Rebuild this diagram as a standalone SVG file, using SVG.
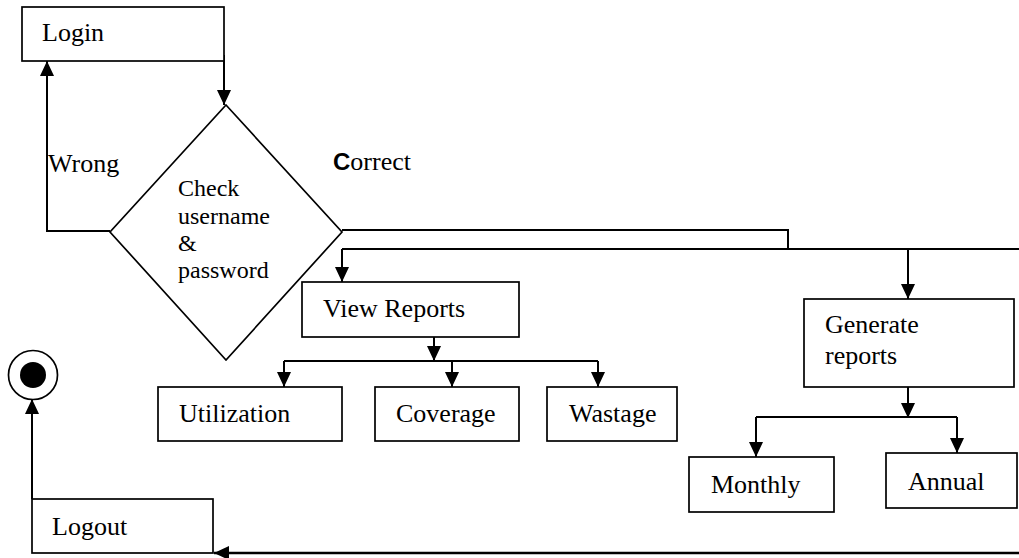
<svg xmlns="http://www.w3.org/2000/svg" width="1019" height="558" viewBox="0 0 1019 558">
  <style>
    .box { fill: #fff; stroke: #000; stroke-width: 1.7; }
    .lbl { font-family: "Liberation Serif", "Times New Roman", serif; font-size: 26px; fill: #000; }
    .small { font-size: 24px; }
    .cap { font-family: "Liberation Sans", Arial, sans-serif; font-weight: bold; font-size: 24px; }
    .wire { fill: none; stroke: #000; stroke-width: 2; }
    .arrow { fill: none; stroke: #000; stroke-width: 2; marker-end: url(#head); }
  </style>
  <defs>
    <marker id="head" viewBox="0 0 15 14" refX="15" refY="7" markerWidth="15" markerHeight="14" markerUnits="userSpaceOnUse" orient="auto">
      <path d="M0,0 L15,7 L0,14 z" fill="#000"/>
    </marker>
  </defs>
  <rect width="1019" height="558" fill="#fff"/>

  <!-- connectors -->
  <g id="connectors">
    <!-- login to check -->
    <path class="arrow" d="M224,55 V105"/>
    <!-- wrong: back to login -->
    <path class="arrow" d="M110,231 H47 V61"/>
    <text class="lbl" x="48" y="172">Wrong</text>
    <!-- correct: out to the report branches -->
    <path class="wire" d="M342,230 H788 V249"/>
    <path class="wire" d="M342,249 H1019"/>
    <text class="lbl" x="333" y="170"><tspan class="cap">C</tspan>orrect</text>
    <path class="arrow" d="M342,249 V282"/>
    <path class="arrow" d="M908,249 V299"/>
    <!-- view reports fan-out -->
    <path class="arrow" d="M434,337 V361"/>
    <path class="wire" d="M284,361 H598"/>
    <path class="arrow" d="M284,361 V387"/>
    <path class="arrow" d="M452,361 V387"/>
    <path class="arrow" d="M598,361 V387"/>
    <!-- generate reports fan-out -->
    <path class="arrow" d="M908,387 V418"/>
    <path class="wire" d="M756,417 H957"/>
    <path class="arrow" d="M756,417 V457"/>
    <path class="arrow" d="M957,417 V453"/>
    <!-- return to logout -->
    <path class="arrow" d="M1019,553 H214" style="stroke-width:2.6"/>
    <!-- logout to end -->
    <path class="arrow" d="M32,499 V399"/>
  </g>

  <g id="login">
    <rect class="box" x="22" y="7" width="202" height="54"/>
    <text class="lbl" x="42" y="41">Login</text>
  </g>

  <g id="check">
    <polygon class="box" points="226,105 342,232 226,360 110,232"/>
    <text class="lbl small" x="178" y="196">Check</text>
    <text class="lbl small" x="178" y="224">username</text>
    <text class="lbl small" x="178" y="251">&amp;</text>
    <text class="lbl small" x="178" y="278">password</text>
  </g>

  <g id="view-reports">
    <rect class="box" x="302" y="282" width="217" height="55"/>
    <text class="lbl" x="323" y="317">View Reports</text>
  </g>

  <g id="utilization">
    <rect class="box" x="158" y="387" width="184" height="54"/>
    <text class="lbl" x="179" y="422">Utilization</text>
  </g>

  <g id="coverage">
    <rect class="box" x="375" y="387" width="144" height="54"/>
    <text class="lbl" x="396" y="422">Coverage</text>
  </g>

  <g id="wastage">
    <rect class="box" x="547" y="387" width="130" height="54"/>
    <text class="lbl" x="569" y="422">Wastage</text>
  </g>

  <g id="generate-reports">
    <rect class="box" x="804" y="299" width="210" height="88"/>
    <text class="lbl" x="825" y="333">Generate</text>
    <text class="lbl" x="825" y="364">reports</text>
  </g>

  <g id="monthly">
    <rect class="box" x="689" y="457" width="145" height="55"/>
    <text class="lbl" x="711" y="493">Monthly</text>
  </g>

  <g id="annual">
    <rect class="box" x="886" y="453" width="131" height="55"/>
    <text class="lbl" x="908" y="490">Annual</text>
  </g>

  <g id="logout">
    <rect class="box" x="32" y="499" width="181" height="54"/>
    <text class="lbl" x="52" y="535">Logout</text>
  </g>

  <g id="end">
    <circle cx="33" cy="375" r="24.5" fill="#fff" stroke="#000" stroke-width="1.7"/>
    <circle cx="33" cy="375" r="13" fill="#000"/>
  </g>
</svg>
